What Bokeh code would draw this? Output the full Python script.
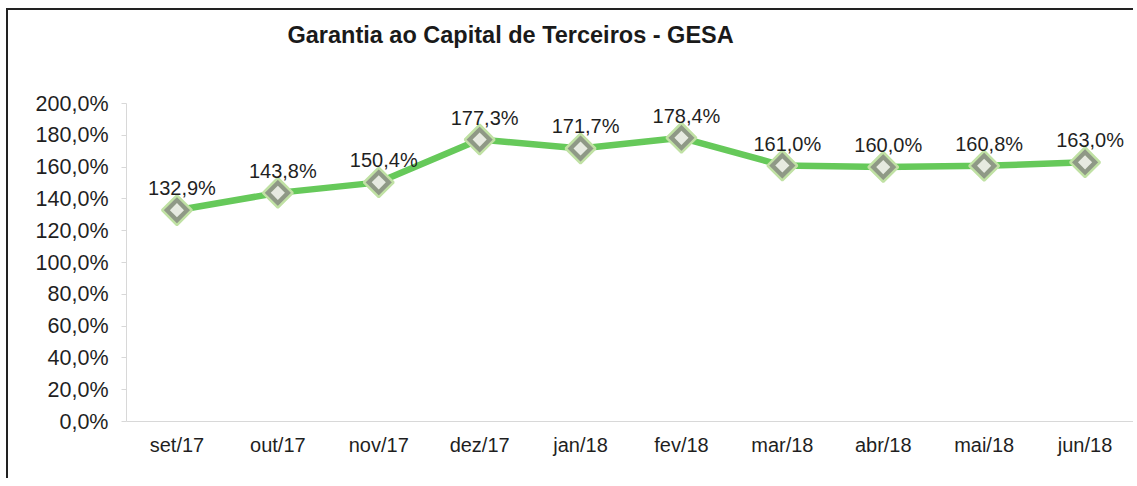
from bokeh.plotting import figure
from bokeh.models import ColumnDataSource, FixedTicker, CustomJSTickFormatter, Title
from bokeh.core.properties import value
from bokeh.embed import file_html
from bokeh.resources import INLINE

months = ["set/17", "out/17", "nov/17", "dez/17", "jan/18", "fev/18", "mar/18", "abr/18", "mai/18", "jun/18"]
garantia = [132.9, 143.8, 150.4, 177.3, 171.7, 178.4, 161.0, 160.0, 160.8, 163.0]
y_ticks = [0, 20, 40, 60, 80, 100, 120, 140, 160, 180, 200]
title_text = "Garantia ao Capital de Terceiros - GESA"

labels = [f"{v:.1f}%".replace(".", ",") for v in garantia]
src = ColumnDataSource(dict(x=months, y=garantia, lab=labels))

FONT = "Liberation Sans"

p = figure(x_range=months, y_range=(0, 200), width=1127, height=470,
           output_backend="svg", toolbar_location=None,
           min_border_left=118, min_border_right=0, min_border_top=93, min_border_bottom=59)
p.styles = {"border-left": "2px solid #222", "border-top": "2px solid #222",
            "margin-left": "6px", "margin-top": "8px"}
p.outline_line_color = None
p.background_fill_color = "white"
p.border_fill_color = "white"
p.xgrid.grid_line_color = None
p.ygrid.grid_line_color = None

spacer = Title(text=" ", text_font=FONT, text_font_size="35px")
p.add_layout(spacer, "above")
t = Title(text=title_text, align="left", offset=161,
          text_font=FONT, text_font_size="23.5px", text_font_style="bold", text_color="#1a1a1a")
p.add_layout(t, "above")

p.yaxis.ticker = FixedTicker(ticks=y_ticks)
p.yaxis.formatter = CustomJSTickFormatter(code="return tick.toFixed(1).replace('.', ',') + '%';")
p.yaxis.major_label_text_font = FONT
p.yaxis.major_label_text_font_size = "21.5px"
p.yaxis.major_label_text_color = "#1f1f1f"
p.yaxis.axis_line_color = "#d8d8d8"
p.yaxis.major_tick_line_color = "#d8d8d8"
p.yaxis.major_tick_out = 5
p.yaxis.major_tick_in = 0
p.yaxis.minor_tick_line_color = None
p.yaxis.major_label_standoff = 13

p.xaxis.major_label_text_font = FONT
p.xaxis.major_label_text_font_size = "20px"
p.xaxis.major_label_text_color = "#1f1f1f"
p.xaxis.axis_line_color = "#d8d8d8"
p.xaxis.major_tick_line_color = None
p.xaxis.major_label_standoff = 6

p.line("x", "y", source=src, line_color="#66c95a", line_width=6.5)
p.scatter("x", "y", source=src, marker="square", angle=0.785398, size=21,
          fill_color="#8f9986", line_color="#c0e1a4", line_width=2.5)
p.scatter("x", "y", source=src, marker="square", angle=0.785398, size=10,
          fill_color="#e6eae0", line_color=None)

p.text("x", "y", text="lab", source=src, x_offset=5, y_offset=-22,
       text_align="center", text_baseline="middle",
       text_font=value(FONT), text_font_size="20px", text_color="#1f1f1f")

open("out.html", "w").write(file_html(p, INLINE))
